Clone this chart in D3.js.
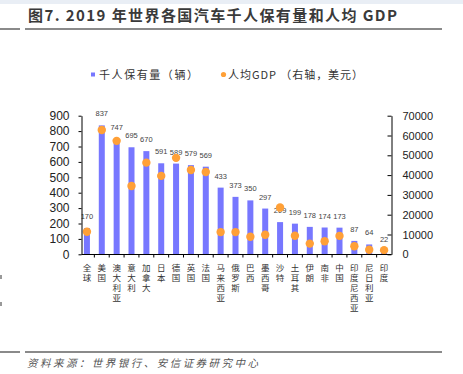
<!DOCTYPE html>
<html>
<head>
<meta charset="utf-8">
<script src="https://cdn.jsdelivr.net/npm/d3@7"></script>
<style>
  body { margin: 0; background: #fff; }
  svg { display: block; }
</style>
</head>
<body>
<div id="chart"></div>
<script>
const countries = ['全球', '美国', '澳大利亚', '意大利', '加拿大', '日本', '德国', '英国', '法国',
  '马来西亚', '俄罗斯', '巴西', '墨西哥', '沙特', '土耳其', '伊朗', '南非', '中国',
  '印度尼西亚', '尼日利亚', '印度'];
const carsPer1000 = [170, 837, 747, 695, 670, 591, 589, 579, 569, 433, 373, 350, 297, 209, 199, 178, 174, 173, 87, 64, 22];
const gdpPerCapita = [11400, 62800, 57300, 34500, 46300, 39600, 48700, 42600, 41600, 11200, 11200,
  8900, 9900, 23600, 9400, 5400, 6600, 9300, 4100, 2300, 2100];
const leftTicks = [0, 100, 200, 300, 400, 500, 600, 700, 800, 900];
const rightTicks = [0, 10000, 20000, 30000, 40000, 50000, 60000, 70000];

const W = 463, H = 374;
const cjk = '"Noto Sans CJK SC", "Noto Sans", sans-serif';
const latin = '"Liberation Sans", Arial, sans-serif';

const svg = d3.select('#chart').append('svg')
    .attr('width', W)
    .attr('height', H);

// header band and rules
svg.append('rect').attr('x', 0).attr('y', 0).attr('width', W).attr('height', 4).attr('fill', '#e9eef5');
[29, 352].forEach(function(y) {
  svg.append('rect').attr('x', 0).attr('y', y - 1).attr('width', 20).attr('height', 2).attr('fill', '#8a8a8a');
  svg.append('rect').attr('x', 25).attr('y', y - 1).attr('width', 417).attr('height', 2).attr('fill', '#8a8a8a');
});
// little marks at the left margin
svg.append('rect').attr('x', 0).attr('y', 275).attr('width', 2).attr('height', 4).attr('fill', '#999');
svg.append('rect').attr('x', 0).attr('y', 302).attr('width', 2).attr('height', 4).attr('fill', '#999');

svg.append('text')
    .attr('x', 28).attr('y', 21)
    .attr('textLength', 369).attr('lengthAdjust', 'spacing')
    .style('font-family', cjk).style('font-size', '15px').style('font-weight', 'bold')
    .attr('fill', '#3a3a3a')
    .text('图7. 2019 年世界各国汽车千人保有量和人均 GDP');

svg.append('text')
    .attr('x', 27).attr('y', 366.5)
    .attr('textLength', 231).attr('lengthAdjust', 'spacing')
    .style('font-family', cjk).style('font-size', '10.5px').style('font-style', 'italic')
    .attr('fill', '#555')
    .text('资料来源：世界银行、安信证券研究中心');

// legend
svg.append('rect').attr('x', 91).attr('y', 72.5).attr('width', 4).attr('height', 4).attr('fill', '#7777ff');
svg.append('text')
    .attr('x', 99).attr('y', 78.5)
    .attr('textLength', 99).attr('lengthAdjust', 'spacing')
    .style('font-family', cjk).style('font-size', '11px').attr('fill', '#333')
    .text('千人保有量（辆）');
svg.append('circle').attr('cx', 223.5).attr('cy', 74.5).attr('r', 2.6).attr('fill', '#ffa037');
svg.append('text')
    .attr('x', 228).attr('y', 78.5)
    .attr('textLength', 135).attr('lengthAdjust', 'spacing')
    .style('font-family', cjk).style('font-size', '11px').attr('fill', '#333')
    .text('人均GDP （右轴，美元）');

// scales
const x = d3.scaleBand()
    .domain(countries)
    .range([79.5, 391.5]);
const yL = d3.scaleLinear().domain([0, 900]).range([254.3, 115.7]);
const yR = d3.scaleLinear().domain([0, 70000]).range([254.3, 115.7]);
const barW = 6;

// bars
svg.selectAll('.bar')
    .data(countries)
  .enter().append('rect')
    .attr('class', 'bar')
    .attr('x', function(d) { return x(d) + x.bandwidth() / 2 - barW / 2; })
    .attr('y', function(d, i) { return yL(carsPer1000[i]); })
    .attr('width', barW)
    .attr('height', function(d, i) { return yL(0) - yL(carsPer1000[i]); })
    .attr('fill', '#7777ff');

// value labels
svg.selectAll('.val')
    .data(countries)
  .enter().append('text')
    .attr('class', 'val')
    .attr('x', function(d) { return x(d) + x.bandwidth() / 2; })
    .attr('y', function(d, i) { return yL(carsPer1000[i]) - 9; })
    .attr('text-anchor', 'middle')
    .style('font-family', latin).style('font-size', '7.5px')
    .attr('fill', '#444')
    .text(function(d, i) { return carsPer1000[i]; });

// dots
svg.selectAll('.dot')
    .data(countries)
  .enter().append('circle')
    .attr('class', 'dot')
    .attr('cx', function(d) { return x(d) + x.bandwidth() / 2; })
    .attr('cy', function(d, i) { return yR(gdpPerCapita[i]); })
    .attr('r', 4.2)
    .attr('fill', '#ffa037');

// axes
const leftAxis = d3.axisLeft(yL).tickValues(leftTicks).tickSizeInner(3).tickSizeOuter(0).tickPadding(9);
const gl = svg.append('g').attr('transform', 'translate(81.5,0)').call(leftAxis);
gl.selectAll('text').style('font-family', latin).style('font-size', '12px').attr('fill', '#222');

const rightAxis = d3.axisRight(yR).tickValues(rightTicks).tickSizeInner(-4).tickSizeOuter(0).tickPadding(11).tickFormat(d3.format('d'));
const gr = svg.append('g').attr('transform', 'translate(391.5,0)').call(rightAxis);
gr.selectAll('text').style('font-family', latin).style('font-size', '11px').attr('fill', '#222');

const bottomTicks = countries.map(function(d) { return x(d); }).concat([391.5]);
svg.append('line')
    .attr('x1', 81.5).attr('x2', 391.5)
    .attr('y1', 254.5).attr('y2', 254.5)
    .attr('stroke', '#000');
svg.selectAll('.xt')
    .data(bottomTicks.slice(1, -1))
  .enter().append('line')
    .attr('class', 'xt')
    .attr('x1', function(d) { return d; }).attr('x2', function(d) { return d; })
    .attr('y1', 254.5).attr('y2', 257.5)
    .attr('stroke', '#000');
[gl, gr].forEach(function(g) {
  g.selectAll('path, line').attr('stroke', '#000');
});

// category labels, one character per line
countries.forEach(function(d) {
  const cx = x(d) + x.bandwidth() / 2;
  d.split('').forEach(function(ch, k) {
    svg.append('text')
        .attr('class', 'cat')
        .attr('x', cx)
        .attr('y', 270.5 + k * 10)
        .attr('text-anchor', 'middle')
        .style('font-family', cjk).style('font-size', '8.5px')
        .attr('fill', '#333')
        .text(ch);
  });
});
</script>
</body>
</html>
